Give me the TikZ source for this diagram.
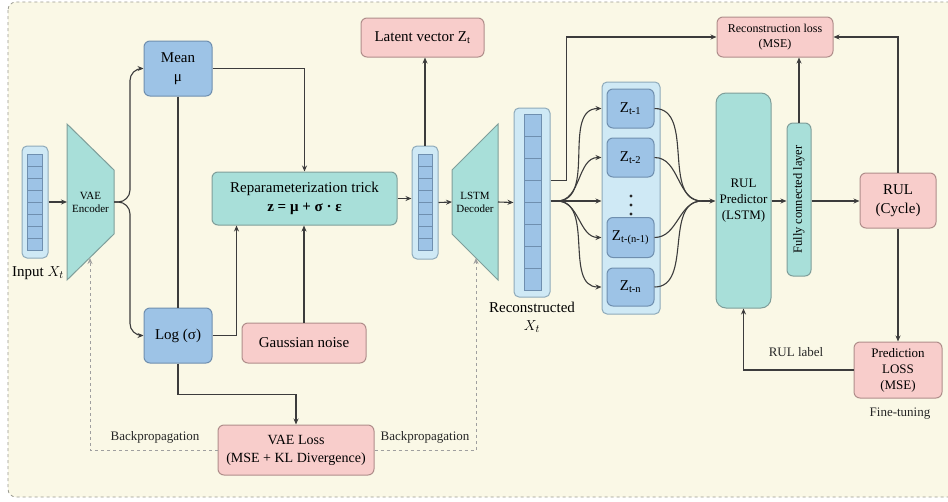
\documentclass[tikz,border=0pt]{standalone}
\usepackage{fontspec}
\setmainfont{Liberation Serif}
\usetikzlibrary{arrows.meta}

\definecolor{cream}{HTML}{FAF8E6}
\definecolor{frameline}{HTML}{9A9A90}
\definecolor{boxblue}{HTML}{9DC3E6}
\definecolor{boxblueline}{HTML}{6F8FAF}
\definecolor{boxteal}{HTML}{A8DFD9}
\definecolor{boxtealline}{HTML}{7F9E9A}
\definecolor{boxpink}{HTML}{F8CDCB}
\definecolor{boxpinkline}{HTML}{B08E8B}
\definecolor{vecbg}{HTML}{CFE9F5}
\definecolor{vecline}{HTML}{8EAABA}
\definecolor{wire}{HTML}{3C3C3C}

\tikzset{
  basebox/.style={draw, line width=1pt, rounded corners=6pt, align=center, inner sep=1pt,
    font=\fontsize{15}{19}\selectfont},
  bluebox/.style={basebox, fill=boxblue, draw=boxblueline},
  tealbox/.style={basebox, fill=boxteal, draw=boxtealline},
  pinkbox/.style={basebox, fill=boxpink, draw=boxpinkline},
  holder/.style={draw=vecline, fill=vecbg, line width=1pt, rounded corners=5pt},
  cell/.style={draw=boxblueline, fill=boxblue, line width=0.6pt},
  funnel/.style={draw=boxtealline, fill=boxteal, line width=1pt},
  link/.style={-{Stealth[length=6pt,width=5pt]}, draw=wire, line width=1.1pt},
  wireline/.style={draw=wire, line width=1.1pt},
  backprop/.style={-{Stealth[length=6pt,width=5pt]}, draw=gray!75, dashed, line width=1pt},
  lbl/.style={font=\fontsize{13}{16}\selectfont, align=center, text=black!85},
}

\begin{document}
\begin{tikzpicture}[x=1pt, y=-1pt]
\useasboundingbox (0,0) rectangle (948,501);
\fill[white] (0,0) rectangle (948,501);
\draw[frameline, dashed, fill=cream, rounded corners=8pt, line width=0.8pt] (8,2) rectangle (962,497);

% encoder side
\node[holder, minimum width=26pt, minimum height=112pt] (invec) at (35,202) {};
\foreach \i in {0,...,7}
  \draw[cell] (27,154+12*\i) rectangle ++(15,12);
\node[font=\fontsize{15}{18}\selectfont] (inlabel) at (38,273) {Input $X_t$};

\draw[funnel] (67,124) -- (114,170) -- (114,234) -- (67,280) -- cycle;
\node[font=\fontsize{11}{13}\selectfont, align=center] (enc) at (90.5,202) {VAE\\Encoder};
\coordinate (encL) at (67,202);
\coordinate (encR) at (114,202);
\coordinate (encSplit) at (130,202);
\coordinate (encBot) at (90,258);

\node[bluebox, minimum width=68pt, minimum height=55pt] (mean) at (178,68.5) {Mean\\μ};
\node[bluebox, minimum width=68pt, minimum height=55pt] (logs) at (178,335.5) {Log (σ)};
\node[tealbox, minimum width=185pt, minimum height=53pt] (reparam) at (304.5,198.5)
  {Reparameterization trick\\\textbf{z = μ + σ · ε}};
\node[pinkbox, minimum width=124pt, minimum height=40pt] (noise) at (304,343) {Gaussian noise};
\node[pinkbox, minimum width=156pt, minimum height=50pt, font=\fontsize{14}{18}\selectfont] (vaeloss) at (296,450)
  {VAE Loss\\(MSE + KL Divergence)};

% latent and decoder
\node[holder, minimum width=26pt, minimum height=113pt] (latvec) at (425,202.5) {};
\foreach \i in {0,...,7}
  \draw[cell] (418,154+12*\i) rectangle ++(14,12);
\node[pinkbox, minimum width=123pt, minimum height=39pt] (latent) at (422.5,37.5) {Latent vector Z\textsubscript{t}};

\draw[funnel] (452,170) -- (498,124) -- (498,280) -- (452,234) -- cycle;
\node[font=\fontsize{11}{13}\selectfont, align=center] (dec) at (475,202) {LSTM\\Decoder};
\coordinate (decL) at (452,202);
\coordinate (decR) at (498,202);
\coordinate (decBot) at (476,258);

\node[holder, minimum width=36pt, minimum height=189pt] (recvec) at (532,202.5) {};
\foreach \i in {0,...,7}
  \draw[cell] (524,114+22*\i) rectangle ++(17,22);
\node[font=\fontsize{15}{18}\selectfont, align=center] (reclabel) at (532,317) {Reconstructed\\$X_t$};
\coordinate (fan) at (557,201);

% sequence windows
\node[holder, minimum width=58pt, minimum height=232pt] (zbox) at (631,198) {};
\node[bluebox, minimum width=47pt, minimum height=39pt] (z1) at (630.5,108.5) {Z\textsubscript{t-1}};
\node[bluebox, minimum width=47pt, minimum height=39pt] (z2) at (630.5,157.5) {Z\textsubscript{t-2}};
\foreach \d in {196,205,214}
  \fill[black!85] (631,\d) circle (1.7pt);
\node[bluebox, minimum width=47pt, minimum height=40pt] (z3) at (630.5,237.5) {Z\textsubscript{t-(n-1)}};
\node[bluebox, minimum width=47pt, minimum height=38pt] (z4) at (630.5,287) {Z\textsubscript{t-n}};
\coordinate (merge) at (702,201);

% predictor side
\node[tealbox, rounded corners=10pt, minimum width=55pt, minimum height=215pt, font=\fontsize{13}{16}\selectfont] (pred)
  at (743.5,200.5) {RUL\\Predictor\\(LSTM)};
\node[tealbox, minimum width=24pt, minimum height=153pt, inner sep=0pt, font=\fontsize{12.5}{14}\selectfont] (fc)
  at (799,199.5) {\rotatebox{90}{Fully connected layer}};
\node[pinkbox, minimum width=116pt, minimum height=40pt, font=\fontsize{12}{15}\selectfont] (recloss) at (775,37)
  {Reconstruction loss\\(MSE)};
\node[pinkbox, minimum width=76pt, minimum height=55pt] (rul) at (898,200.5) {RUL\\(Cycle)};
\node[pinkbox, minimum width=88pt, minimum height=56pt, font=\fontsize{13}{16}\selectfont] (predloss) at (898,370)
  {Prediction\\LOSS\\(MSE)};
\node[lbl] (finetune) at (900,414) {Fine-tuning};
\node[lbl] (rullabel) at (796,352) {RUL label};
\node[lbl] (bpleft) at (155,437) {Backpropagation};
\node[lbl] (bpright) at (425,437) {Backpropagation};

% connectors
\draw[link] (invec.east) -- (encL);
\draw[link, rounded corners=12pt] (encR) -- (encSplit) |- (mean.west);
\draw[link, rounded corners=12pt] (encR) -- (encSplit) |- (logs.west);
\draw[wireline] (mean.south) -- (logs.north);
\draw[link] (mean.east) -| (reparam.north);
\draw[link] (logs.east) -| ([xshift=25pt]reparam.south west);
\draw[link] (noise.north) -- (noise.north |- reparam.south);
\draw[link] (logs.south) -- ++(0,31) -| (vaeloss.north);
\draw[backprop] (vaeloss.west) -| (encBot);
\draw[backprop] (vaeloss.east) -| (decBot);

\draw[link] (reparam.east) -- (reparam.east -| latvec.west);
\draw[link] (latvec.north) -- (latvec.north |- latent.south);
\draw[link] (latvec.east) -- (decL);
\draw[link] (decR) -- (recvec.west);
\draw[link] ([yshift=22pt]recvec.east) -- ++(16,0) |- (recloss.west);

\draw[wireline] (recvec.east |- fan) -- (fan);
\foreach \z in {z1,z2,z3,z4}
  \draw[link] (fan) to[out=0, in=180] (\z.west -| zbox.west);
\draw[link] (fan) -- (fan -| zbox.west);
\foreach \z in {z1,z2,z3,z4}
  \draw[wireline] (\z.east) to[out=0, in=180] (merge);
\draw[link] (merge) -- (merge -| pred.west);

\draw[link] (pred.east |- fan) -- (fc.west |- fan);
\draw[link] (fc.north) -- (fc.north |- recloss.south);
\draw[link] (fc.east |- fan) -- (rul.west |- fan);
\draw[link] (rul.north) |- (recloss.east);
\draw[link] (rul.south) -- (predloss.north);
\draw[link] (predloss.west) -| (pred.south);
\end{tikzpicture}
\end{document}
